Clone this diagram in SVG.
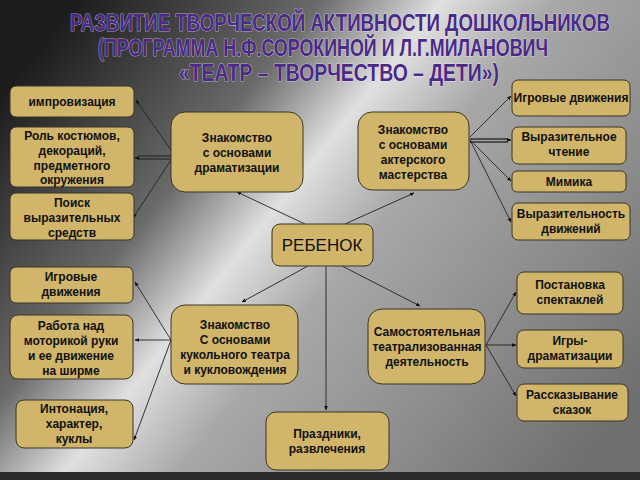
<svg xmlns="http://www.w3.org/2000/svg" width="640" height="480" viewBox="0 0 640 480">
<defs>
<linearGradient id="bg" x1="0" y1="0.2" x2="1" y2="0.8">
<stop offset="0" stop-color="#1c1c1c"/>
<stop offset="0.28" stop-color="#6a6a6a"/>
<stop offset="0.42" stop-color="#e0e0e0"/>
<stop offset="0.55" stop-color="#a8a8a8"/>
<stop offset="0.8" stop-color="#8a8a8a"/>
<stop offset="1" stop-color="#707070"/>
</linearGradient>
<marker id="a" viewBox="0 0 10 10" refX="9" refY="5" markerWidth="5" markerHeight="5" orient="auto"><path d="M0,1 L10,5 L0,9 z" fill="#111"/></marker>
<style>
.b{fill:#d0b56b;stroke:#3b3522;stroke-width:1}
.t{font-family:"Liberation Sans",Arial,sans-serif;font-weight:bold;font-size:12px;fill:#111;text-anchor:middle}
.c{stroke:#222;stroke-width:0.9;fill:none;marker-end:url(#a)}
.h{font-family:"Liberation Sans",Arial,sans-serif;font-weight:bold;font-size:24px;fill:#4a2a86;text-anchor:middle;stroke:#ffffff;stroke-width:0.6;paint-order:stroke}
</style>
</defs>
<rect width="640" height="480" fill="url(#bg)"/>
<rect y="472" width="640" height="8" fill="#2a2a2a"/>
<g id="title">
<text class="h" x="340" y="31" textLength="540" lengthAdjust="spacingAndGlyphs">РАЗВИТИЕ ТВОРЧЕСКОЙ АКТИВНОСТИ ДОШКОЛЬНИКОВ</text>
<text class="h" x="323" y="56" textLength="450" lengthAdjust="spacingAndGlyphs">(ПРОГРАММА Н.Ф.СОРОКИНОЙ И Л.Г.МИЛАНОВИЧ</text>
<text class="h" x="339" y="81" textLength="320" lengthAdjust="spacingAndGlyphs">«ТЕАТР – ТВОРЧЕСТВО – ДЕТИ»)</text>
</g>
<g id="connectors">
<path class="c" d="M171,150 L136,100"/>
<path d="M171,156 L138,156 M171,159 L138,159" stroke="#333" stroke-width="1.5"/>
<path class="c" d="M136,158 L135,158"/>
<path class="c" d="M171,160 L133,218"/>
<path class="c" d="M470,137 L511,96"/>
<path d="M470,139 L508,139 M470,142 L508,142" stroke="#333" stroke-width="1.5"/>
<path class="c" d="M508,140 L511,140"/>
<path class="c" d="M470,140 L511,181"/>
<path class="c" d="M470,140 L511,222"/>
<path class="c" d="M305,224 L237,192"/>
<path class="c" d="M345,224 L414,193"/>
<path class="c" d="M308,266 L242,302"/>
<path class="c" d="M326,266 L326,410"/>
<path class="c" d="M342,266 L420,306"/>
<path class="c" d="M171,340 L135,282"/>
<path class="c" d="M171,340 L135,340"/>
<path class="c" d="M171,340 L134,440"/>
<path class="c" d="M486,345 L516,292"/>
<path class="c" d="M486,345 L516,345"/>
<path class="c" d="M486,345 L516,396"/>
</g>
<g id="n1"><rect class="b" x="10" y="86" width="124" height="31" rx="6"/><text class="t" x="72" y="106">импровизация</text></g>
<g id="n2"><rect class="b" x="10" y="127" width="124" height="60" rx="6"/><text class="t" x="72" y="140">Роль костюмов,<tspan x="72" dy="15">декораций,</tspan><tspan x="72" dy="15">предметного</tspan><tspan x="72" dy="14">окружения</tspan></text></g>
<g id="n3"><rect class="b" x="10" y="193" width="124" height="47" rx="6"/><text class="t" x="72" y="207">Поиск<tspan x="72" dy="15">выразительных</tspan><tspan x="72" dy="15">средств</tspan></text></g>
<g id="n4"><rect class="b" x="171" y="112" width="132" height="80" rx="14"/><text class="t" x="237" y="142">Знакомство<tspan x="237" dy="15">с основами</tspan><tspan x="237" dy="15">драматизации</tspan></text></g>
<g id="n5"><rect class="b" x="358" y="112" width="111" height="78" rx="14"/><text class="t" x="413" y="134">Знакомство<tspan x="413" dy="15">с основами</tspan><tspan x="413" dy="15">актерского</tspan><tspan x="413" dy="15">мастерства</tspan></text></g>
<g id="n6"><rect class="b" x="512" y="80" width="118" height="36" rx="6"/><text class="t" x="571" y="102">Игровые движения</text></g>
<g id="n7"><rect class="b" x="512" y="127" width="114" height="37" rx="6"/><text class="t" x="569" y="141">Выразительное<tspan x="569" dy="15">чтение</tspan></text></g>
<g id="n8"><rect class="b" x="512" y="171" width="114" height="21" rx="5"/><text class="t" x="569" y="186">Мимика</text></g>
<g id="n9"><rect class="b" x="512" y="203" width="118" height="37" rx="6"/><text class="t" x="571" y="218">Выразительность<tspan x="571" dy="15">движений</tspan></text></g>
<g id="n10"><rect class="b" x="272" y="224" width="101" height="42" rx="8"/><text class="t" x="322" y="251" style="font-weight:normal;font-size:17px">РЕБЕНОК</text></g>
<g id="n11"><rect class="b" x="10" y="267" width="123" height="36" rx="6"/><text class="t" x="71" y="281">Игровые<tspan x="71" dy="15">движения</tspan></text></g>
<g id="n12"><rect class="b" x="10" y="315" width="123" height="64" rx="8"/><text class="t" x="71" y="330">Работа над<tspan x="71" dy="15">моторикой руки</tspan><tspan x="71" dy="15">и ее движение</tspan><tspan x="71" dy="15">на ширме</tspan></text></g>
<g id="n13"><rect class="b" x="16" y="400" width="117" height="48" rx="8"/><text class="t" x="74" y="413">Интонация,<tspan x="74" dy="15">характер,</tspan><tspan x="74" dy="15">куклы</tspan></text></g>
<g id="n14"><rect class="b" x="171" y="305" width="127" height="79" rx="14"/><text class="t" x="235" y="329">Знакомство<tspan x="235" dy="15">С основами</tspan><tspan x="235" dy="15">кукольного театра</tspan><tspan x="235" dy="15">и кукловождения</tspan></text></g>
<g id="n15"><rect class="b" x="368" y="309" width="117" height="75" rx="14"/><text class="t" x="427" y="336">Самостоятельная<tspan x="427" dy="15">театрализованная</tspan><tspan x="427" dy="15">деятельность</tspan></text></g>
<g id="n16"><rect class="b" x="517" y="272" width="106" height="42" rx="7"/><text class="t" x="570" y="289">Постановка<tspan x="570" dy="15">спектаклей</tspan></text></g>
<g id="n17"><rect class="b" x="517" y="330" width="106" height="38" rx="7"/><text class="t" x="570" y="345">Игры-<tspan x="570" dy="15">драматизации</tspan></text></g>
<g id="n18"><rect class="b" x="517" y="384" width="111" height="37" rx="7"/><text class="t" x="572" y="399">Рассказывание<tspan x="572" dy="15">сказок</tspan></text></g>
<g id="n19"><rect class="b" x="266" y="412" width="123" height="58" rx="10"/><text class="t" x="327" y="438">Праздники,<tspan x="327" dy="15">развлечения</tspan></text></g>
</svg>
